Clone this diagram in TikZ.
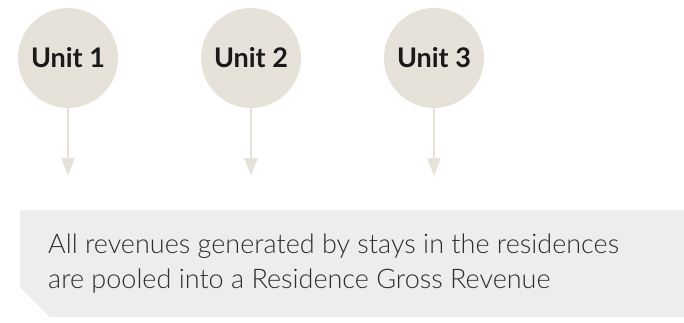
\documentclass[tikz,border=0pt]{standalone}
\usepackage{fontspec}
\setmainfont{Lato}
\newfontfamily\lightfont{Lato Light}
\usetikzlibrary{arrows.meta}
\definecolor{unitfill}{HTML}{E6E2DA}
\definecolor{panelfill}{HTML}{EDEDED}
\definecolor{bodytext}{HTML}{2E2E2E}
\tikzset{
  unit/.style={circle, fill=unitfill, minimum size=100pt, inner sep=0pt,
    font=\bfseries\fontsize{27}{30}\selectfont, text=black!90},
  flow/.style={draw=unitfill, line width=2.6pt,
    -{Triangle[width=13pt,length=18pt]}},
  bodyline/.style={anchor=base west, inner sep=0pt, text=bodytext,
    font=\lightfont\fontsize{27}{30}\selectfont}
}
\begin{document}
\begin{tikzpicture}[x=1pt,y=-1pt]
  \useasboundingbox (0,0) rectangle (684,322);
  % summary panel with clipped lower-left corner
  \fill[panelfill] (20,210) -- (684,210) -- (684,317) -- (50,317) -- (20,287) -- cycle;
  % units
  \node[unit] (u1) at (68,58) {Unit 1};
  \node[unit] (u2) at (251,58) {Unit 2};
  \node[unit] (u3) at (434,58) {Unit 3};
  % arrow end points
  \coordinate (e1) at (68,176);
  \coordinate (e2) at (251,176);
  \coordinate (e3) at (434,176);
  \draw[flow] (u1.south) -- (e1);
  \draw[flow] (u2.south) -- (e2);
  \draw[flow] (u3.south) -- (e3);
  % panel text
  \node[bodyline] (t1) at (48,253) {All revenues generated by stays in the residences};
  \node[bodyline] (t2) at (48,288) {are pooled into a Residence Gross Revenue};
\end{tikzpicture}
\end{document}
